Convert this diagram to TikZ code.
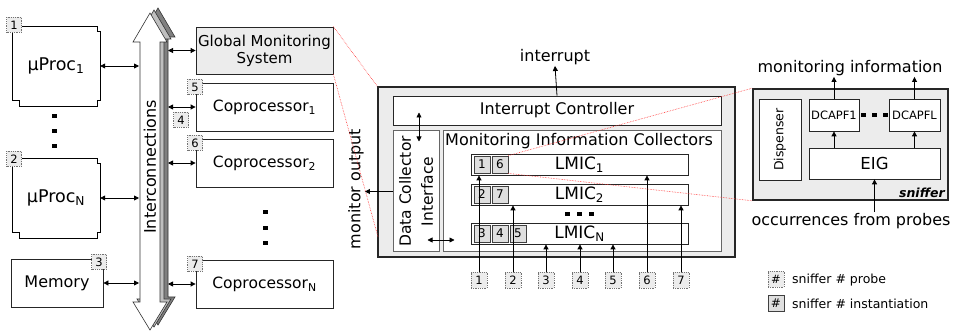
\documentclass[tikz,border=0pt]{standalone}
\usepackage{fontspec}
\setmainfont{DejaVu Sans}
\usetikzlibrary{arrows.meta,calc}
\newcommand{\fsz}[1]{\fontsize{#1}{#1}\selectfont}
\begin{document}
\begin{tikzpicture}[x=1pt,y=-1pt,
  box/.style={draw=black!85, fill=white, line width=0.8pt, inner sep=0pt, align=center},
  graybox/.style={box, fill=gray!15},
  frame/.style={draw=black!85, fill=gray!15, line width=1.6pt, inner sep=0pt},
  probe/.style={draw=black!55, densely dotted, fill=gray!15, line width=0.8pt,
    minimum width=15pt, minimum height=15pt, inner sep=0pt, font=\fsz{11.5}},
  inst/.style={draw=black!75, fill=gray!25, line width=0.8pt,
    minimum width=16pt, minimum height=17pt, inner sep=0pt, font=\fsz{12}},
  tip/.style={-{Triangle[length=5pt,width=5pt]}, line width=0.8pt},
  dtip/.style={{Triangle[length=5pt,width=5pt]}-{Triangle[length=5pt,width=5pt]}, line width=0.8pt},
  zoomline/.style={red!80, densely dotted, line width=0.6pt},
  txt/.style={inner sep=1pt, font=\fsz{16}}
]
\useasboundingbox (0,0) rectangle (954,331);

% ---------- processors and memory ----------
\draw[line width=0.8pt, fill=white] (12,26) -- (97,26) -- (97,31) -- (100,31) -- (100,100) -- (97,100)
  -- (97,106) -- (19,106) -- (19,100) -- (12,100) -- cycle;
\draw[line width=0.8pt, fill=white] (12,158) -- (97,158) -- (97,163) -- (100,163) -- (100,232) -- (97,232)
  -- (97,238) -- (19,238) -- (19,232) -- (12,232) -- cycle;
\node[minimum width=88pt, minimum height=80pt, inner sep=0pt, font=\fsz{17.5}] (p1) at (56,66) {µProc\textsubscript{1}};
\node[minimum width=88pt, minimum height=74pt, inner sep=0pt, font=\fsz{17.5}] (pN) at (56,198) {µProc\textsubscript{N}};
\node[box, minimum width=92pt, minimum height=48pt, font=\fsz{16}] (mem) at (57,283) {Memory};
\foreach \yy in {116,131,146} \fill (52,\yy-2) rectangle ++(4.5,4.5);

% ---------- interconnection bus ----------
\foreach \dx/\dy/\shade in {8/-5/black!50, 4/-3/black!25, 0/0/white}
  \draw[fill=\shade, draw=black!80, line width=0.6pt, shift={(\dx,\dy)}]
    (150,13) -- (167,42) -- (160,42) -- (160,302) -- (167,302) -- (150,330)
    -- (133,302) -- (140,302) -- (140,42) -- (133,42) -- cycle;
\node[rotate=90, font=\fsz{16}] (bus) at (150,167) {Interconnections};
\coordinate (busW) at (139,0);
\coordinate (busE) at (168,0);

% ---------- coprocessors ----------
\node[graybox, minimum width=137pt, minimum height=47pt, font=\fsz{15}] (gms) at (264.5,50.5)
  {Global Monitoring\\[2pt]System};
\node[box, minimum width=137pt, minimum height=48pt, font=\fsz{15.5}] (cop1) at (264.5,107) {Coprocessor\textsubscript{1}};
\node[box, minimum width=137pt, minimum height=48pt, font=\fsz{15.5}] (cop2) at (264.5,163) {Coprocessor\textsubscript{2}};
\node[box, minimum width=137pt, minimum height=48pt, font=\fsz{15.5}] (copN) at (264.5,284) {Coprocessor\textsubscript{N}};
\foreach \yy in {212,228,243} \fill (263,\yy-2) rectangle ++(4.5,4.5);

% bus links
\draw[dtip] (p1.east) -- (p1.east -| busW);
\draw[dtip] (pN.east) -- (pN.east -| busW);
\draw[dtip] (mem.east) -- (mem.east -| busW);
\draw[dtip] (gms.west -| busE) -- (gms.west);
\draw[dtip] (cop1.west -| busE) -- (cop1.west);
\draw[dtip] (cop2.west -| busE) -- (cop2.west);
\draw[dtip] (copN.west -| busE) -- (copN.west);

% probe markers on the platform
\node[probe] (m1) at (14,25) {1};
\node[probe] (m2) at (14,159) {2};
\node[probe] (m3) at (99,262) {3};
\node[probe] (m4) at (181,120) {4};
\node[probe] (m5) at (195,87) {5};
\node[probe] (m6) at (195,143) {6};
\node[probe] (m7) at (195,264) {7};

% ---------- global monitoring system, detailed ----------
\node[frame, minimum width=357pt, minimum height=170pt] (sys) at (556.5,172) {};
\node[box, minimum width=328pt, minimum height=29pt, font=\fsz{16}] (ic) at (557,110.5) {Interrupt Controller};
\node[box, draw=black!60, line width=1pt, minimum width=46pt, minimum height=121pt] (dci) at (416,191.5) {};
\node[rotate=90, align=center, font=\fontsize{15.5}{22}\selectfont] (dcit) at (416,191.5) {Data Collector\\Interface};
\node[box, draw=black!60, line width=1pt, minimum width=278pt, minimum height=121pt] (mic) at (582,191.5) {};
\node[anchor=west, inner sep=0pt, font=\fsz{16}] (mict) at (445,141) {Monitoring Information Collectors};

\node[box, minimum width=217pt, minimum height=21pt, font=\fsz{17}] (l1) at (579.5,164.5) {LMIC\textsubscript{1}};
\node[box, minimum width=217pt, minimum height=21pt, font=\fsz{17}] (l2) at (579.5,194.5) {LMIC\textsubscript{2}};
\node[box, minimum width=217pt, minimum height=21pt, font=\fsz{17}] (lN) at (579.5,233.5) {LMIC\textsubscript{N}};
\foreach \xx in {567,579,591} \fill (\xx-2,212) rectangle ++(4.5,4.5);

\node[inst] (i11) at (482,164.5) {1};
\node[inst] (i16) at (500,164.5) {6};
\node[inst] (i22) at (482,194.5) {2};
\node[inst] (i27) at (500,194.5) {7};
\node[inst] (iN3) at (482,233.5) {3};
\node[inst] (iN4) at (500,233.5) {4};
\node[inst] (iN5) at (518,233.5) {5};

% probe inputs
\node[probe, minimum width=16pt, minimum height=16pt] (q1) at (479,280) {1};
\node[probe, minimum width=16pt, minimum height=16pt] (q2) at (513,280) {2};
\node[probe, minimum width=16pt, minimum height=16pt] (q3) at (546,280) {3};
\node[probe, minimum width=16pt, minimum height=16pt] (q4) at (580,280) {4};
\node[probe, minimum width=16pt, minimum height=16pt] (q5) at (613,280) {5};
\node[probe, minimum width=16pt, minimum height=16pt] (q6) at (647,280) {6};
\node[probe, minimum width=16pt, minimum height=16pt] (q7) at (681,280) {7};
\draw[tip] (q1.north) -- (q1.north |- l1.south);
\draw[tip] (q2.north) -- (q2.north |- l2.south);
\draw[tip] (q3.north) -- (q3.north |- lN.south);
\draw[tip] (q4.north) -- (q4.north |- lN.south);
\draw[tip] (q5.north) -- (q5.north |- lN.south);
\draw[tip] (q6.north) -- (q6.north |- l1.south);
\draw[tip] (q7.north) -- (q7.north |- l2.south);

% internal links
\draw[dtip] ($(dci.north)+(3,-18)$) -- ($(dci.north)+(3,11)$);
\draw[dtip] ($(dci.east)+(-12,48.5)$) -- ($(mic.west)+(12,48.5)$);
\node[txt] (intr) at (555,57) {interrupt};
\draw[tip] (ic.north) -- (intr.south);
\node[rotate=90, inner sep=1pt, font=\fsz{16}] (mo) at (356,189) {monitor output};
\draw[tip] (dci.west) -- (dci.west -| mo.south);

% ---------- sniffer ----------
\node[frame, minimum width=195pt, minimum height=111pt] (snf) at (850.5,144.5) {};
\node[box, minimum width=42pt, minimum height=81pt] (disp) at (780,139.5) {};
\node[rotate=90, font=\fsz{12.5}] (dispt) at (780,139.5) {Dispenser};
\node[box, minimum width=50pt, minimum height=32pt, font=\fsz{11.5}] (dc1) at (834,115) {DCAPF1};
\node[box, minimum width=51pt, minimum height=32pt, font=\fsz{11.5}] (dcl) at (914.5,115) {DCAPFL};
\node[box, minimum width=131pt, minimum height=31pt, font=\fsz{16.5}] (eig) at (874.5,163.5) {EIG};
\foreach \xx in {863,874,885} \fill (\xx-2,113) rectangle ++(4.5,4.5);
\node[anchor=south east, inner sep=0pt, font=\fsz{12.5}\bfseries\itshape] (snft) at (945,198) {sniffer};
\node[txt] (mi) at (850,68) {monitoring information};
\node[txt] (occ) at (851,221) {occurrences from probes};
\draw[tip] (dc1.north) -- (dc1.north |- mi.south);
\draw[tip] (dcl.north) -- (dcl.north |- mi.south);
\draw[tip] (eig.north -| dc1) -- (dc1.south);
\draw[tip] (eig.north -| dcl) -- (dcl.south);
\draw[tip] (occ.north -| eig) -- (eig.south);

% ---------- legend ----------
\node[probe, minimum width=16pt, minimum height=16pt] (k1) at (776,279) {\#};
\node[anchor=west, inner sep=0pt, font=\fsz{12.5}] (k1t) at (792,280) {sniffer \# probe};
\node[inst, minimum height=16pt] (k2) at (776,303) {\#};
\node[anchor=west, inner sep=0pt, font=\fsz{12.5}] (k2t) at (792,304) {sniffer \# instantiation};

% ---------- zoom guides ----------
\coordinate (sysLow) at (378,237);
\draw[zoomline] (gms.north east) -- (sys.north west);
\draw[zoomline] (gms.south east) -- (sysLow);
\draw[zoomline] (i16.north east) -- (snf.north west);
\draw[zoomline] (i16.south east) -- (snf.south west);
\end{tikzpicture}
\end{document}
